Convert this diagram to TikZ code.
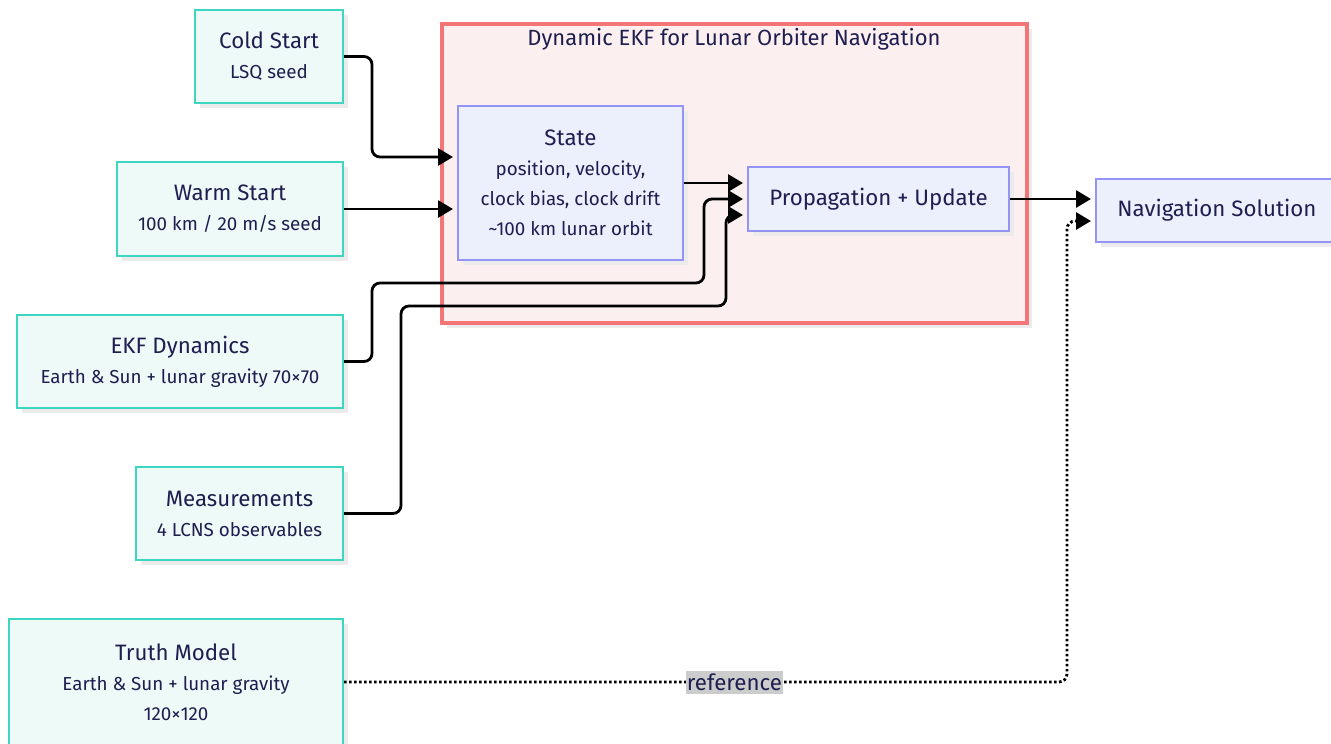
\documentclass[tikz,border=0pt]{standalone}
\usepackage{fontspec}
\setmainfont{Fira Sans}
\usetikzlibrary{arrows.meta,calc,shadows}

\definecolor{txt}{HTML}{1E1E50}
\definecolor{tealline}{HTML}{3DD6C0}
\definecolor{tealfill}{HTML}{EEFAF7}
\definecolor{blueline}{HTML}{9494F7}
\definecolor{bluefill}{HTML}{ECEFFC}
\definecolor{redline}{HTML}{F47575}
\definecolor{redfill}{HTML}{FCEFEF}
\definecolor{shade}{HTML}{EBEBEB}
\definecolor{lblbg}{HTML}{CCCCCC}

\newcommand{\ttl}[1]{{\fontsize{22.3}{30}\selectfont #1}}
\newcommand{\sub}[1]{{\fontsize{18.8}{30}\selectfont #1}}

\tikzset{
  boxbase/.style={rectangle, line width=2pt, text=txt, align=center,
    inner sep=0pt, font=\fontsize{18.8}{30}\selectfont,
    general shadow={shadow xshift=5pt, shadow yshift=-5pt, fill=shade}},
  inbox/.style={boxbase, draw=tealline, fill=tealfill},
  filterbox/.style={boxbase, draw=blueline, fill=bluefill},
  groupbox/.style={rectangle, draw=redline, fill=redfill, line width=4pt,
    inner sep=0pt,
    general shadow={shadow xshift=5pt, shadow yshift=-5pt, fill=shade}},
  conn/.style={line width=2.8pt, rounded corners=8pt, shorten >=4pt,
    -{Triangle[length=15pt,width=17pt]}},
  dotconn/.style={conn, dash pattern=on 2.6pt off 2.4pt},
  lbl/.style={sharp corners, fill=lblbg, text=txt, inner xsep=1pt, inner ysep=3pt,
    font=\fontsize{22.3}{24}\selectfont}
}

\begin{document}
\begin{tikzpicture}[x=1pt,y=-1pt]
\useasboundingbox (0,0) rectangle (1331,744);

% filter group
\node[groupbox, minimum width=585pt, minimum height=299pt] (grp) at (734.5,173.5) {};
\node[text=txt, font=\fontsize{22}{24}\selectfont] (grptitle) at (734,39) {Dynamic EKF for Lunar Orbiter Navigation};

% inputs
\node[inbox, minimum width=148pt, minimum height=93pt] (cold) at (269,56.5)
  {\ttl{Cold Start}\\\sub{LSQ seed}};
\node[inbox, minimum width=226pt, minimum height=94pt] (warm) at (230,209)
  {\ttl{Warm Start}\\\sub{100 km / 20 m/s seed}};
\node[inbox, minimum width=326pt, minimum height=93pt] (ekf) at (180,361.5)
  {\ttl{EKF Dynamics}\\\sub{Earth \& Sun + lunar gravity 70×70}};
\node[inbox, minimum width=207pt, minimum height=93pt] (meas) at (239.5,513.5)
  {\ttl{Measurements}\\\sub{4 LCNS observables}};
\node[inbox, minimum width=334pt, minimum height=126pt] (truth) at (176,682)
  {\ttl{Truth Model}\\\sub{Earth \& Sun + lunar gravity}\\\sub{120×120}};

% filter internals
\node[filterbox, minimum width=225pt, minimum height=154pt] (state) at (570.5,183)
  {\ttl{State}\\\sub{position, velocity,}\\\sub{clock bias, clock drift}\\\sub{{\char"7E}100 km lunar orbit}};
\node[filterbox, minimum width=261pt, minimum height=64pt] (prop) at (878.5,199)
  {\ttl{Propagation + Update}};

% output
\node[filterbox, minimum width=242pt, minimum height=63pt] (nav) at (1217,210.5)
  {\ttl{Navigation Solution}};

% connectors
\draw[conn] (cold.east) -- ++(28,0) |- ($(state.west)+(0,-26)$);
\draw[conn] (warm.east) -- (state.west |- warm.east);
\draw[conn] (state.east) -- ($(prop.west)+(0,-16)$);
\draw[conn] (ekf.east) -- ++(28,0) |- (704,283) |- (prop.west);
\draw[conn] (meas.east) -- ++(57,0) |- (726,306) |- ($(prop.west)+(0,16)$);
\draw[conn] (prop.east) -- ($(nav.west)+(0,-11.5)$);
\draw[dotconn] (truth.east) -- node[lbl, pos=0.54] (reflbl) {reference} (1067,682)
  |- ($(nav.west)+(0,10.5)$);
\end{tikzpicture}
\end{document}
